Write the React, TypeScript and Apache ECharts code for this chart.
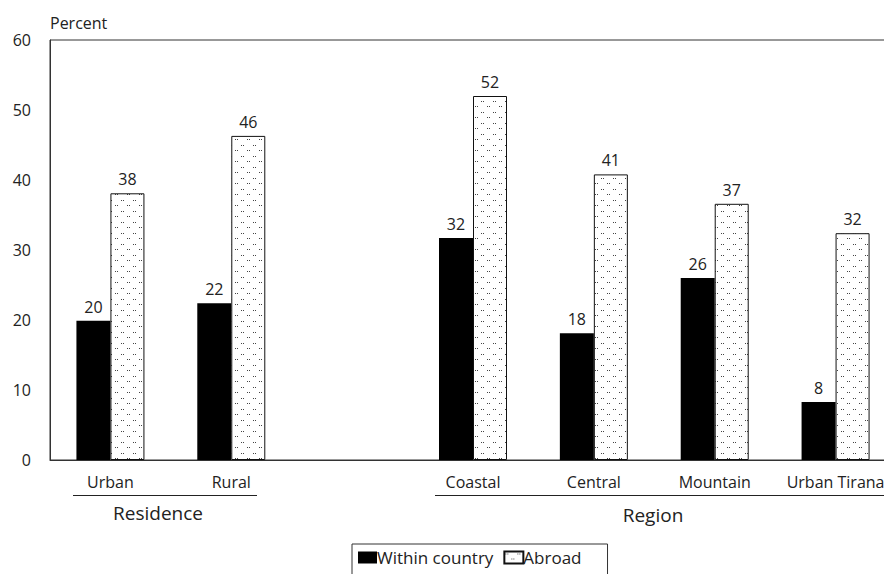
import React, { useEffect, useRef } from "react";
import * as echarts from "echarts";

const categories = ["Urban", "Rural", "", "Coastal", "Central", "Mountain", "Urban Tirana"];
const withinCountry: (number | null)[] = [19.9, 22.4, null, 31.7, 18.1, 26.0, 8.3];
const abroad: (number | null)[] = [38.1, 46.3, null, 52.0, 40.8, 36.6, 32.4];
const yTicks = [0, 10, 20, 30, 40, 50, 60];
const groupLabels = ["Residence", "Region"];
const seriesNames = ["Within country", "Abroad"];

const FONT = "'Open Sans', sans-serif";

function makeDotPattern(): string {
  const c = document.createElement("canvas");
  c.width = 12;
  c.height = 11;
  const ctx = c.getContext("2d")!;
  ctx.fillStyle = "#ffffff";
  ctx.fillRect(0, 0, 12, 11);
  ctx.fillStyle = "#444444";
  ctx.fillRect(1, 2, 1, 1);
  ctx.fillRect(3, 2, 1, 1);
  ctx.fillRect(7, 7, 1, 1);
  ctx.fillRect(9, 7, 1, 1);
  return c.toDataURL();
}

export default function App() {
  const ref = useRef<HTMLDivElement>(null);
  useEffect(() => {
    if (!ref.current) return;
    const chart = echarts.init(ref.current, null, { renderer: "svg" });
    const pattern = { image: makeDotPattern(), repeat: "repeat" };
    const labelCfg = {
      show: true,
      position: "top",
      distance: 6,
      color: "#222",
      fontSize: 16,
      fontFamily: FONT,
      formatter: (p: any) => String(Math.round(p.value)),
    };
    chart.setOption({
      animation: false,
      backgroundColor: "#fff",
      textStyle: { fontFamily: FONT },
      grid: {
        left: 50,
        top: 40,
        width: 846,
        height: 420,
        outerBoundsMode: "none",
        containLabel: false,
        show: true,
        borderColor: "#333",
        borderWidth: 1,
        backgroundColor: "transparent",
      },
      xAxis: {
        type: "category",
        data: categories,
        axisLine: { lineStyle: { color: "#333", width: 1 } },
        axisTick: { show: false },
        axisLabel: { color: "#222", fontSize: 16, fontFamily: FONT, margin: 14, interval: 0 },
      },
      yAxis: {
        type: "value",
        min: 0,
        max: 60,
        interval: 10,
        name: "Percent",
        nameLocation: "end",
        nameGap: 9,
        nameTextStyle: { color: "#222", fontSize: 16, fontFamily: FONT, align: "left" },
        axisLine: { show: true, lineStyle: { color: "#333", width: 1 } },
        axisTick: { show: false },
        splitLine: { show: false },
        axisLabel: {
          color: "#222",
          fontSize: 16,
          fontFamily: FONT,
          margin: 19,
          formatter: (v: number) => (yTicks.includes(v) ? String(v) : ""),
        },
      },
      legend: {
        left: 352,
        top: 544,
        orient: "horizontal",
        borderColor: "#333",
        borderWidth: 1,
        borderRadius: 0,
        padding: [5, 26, 10, 6],
        itemWidth: 19,
        itemHeight: 12,
        itemGap: 10,
        textStyle: { color: "#222", fontSize: 17, fontFamily: FONT, padding: [0, 0, 0, -5] },
        data: [
          { name: seriesNames[0], icon: "rect" },
          { name: seriesNames[1], icon: "rect" },
        ],
      },
      series: [
        {
          name: seriesNames[0],
          type: "bar",
          data: withinCountry,
          barWidth: 34,
          barGap: "0%",
          itemStyle: { color: "#000", borderColor: "#000", borderWidth: 0 },
          label: labelCfg,
        },
        {
          name: seriesNames[1],
          type: "bar",
          data: abroad,
          barWidth: 34,
          barGap: "0%",
          itemStyle: { color: pattern, borderColor: "#111", borderWidth: 1 },
          label: labelCfg,
        },
      ],
      graphic: [
        { type: "line", shape: { x1: 73, y1: 495.5, x2: 257, y2: 495.5 }, style: { stroke: "#222", lineWidth: 1 } },
        { type: "line", shape: { x1: 435, y1: 495.5, x2: 884, y2: 495.5 }, style: { stroke: "#222", lineWidth: 1 } },
        {
          type: "text",
          x: 158,
          y: 513,
          style: { text: groupLabels[0], fill: "#222", font: `19px ${FONT}`, textAlign: "center", textVerticalAlign: "middle" },
        },
        {
          type: "text",
          x: 653,
          y: 515,
          style: { text: groupLabels[1], fill: "#222", font: `19px ${FONT}`, textAlign: "center", textVerticalAlign: "middle" },
        },
      ],
    });
    return () => chart.dispose();
  }, []);
  return <div ref={ref} style={{ width: 884, height: 574, position: "absolute", left: 0, top: 0 }} />;
}
